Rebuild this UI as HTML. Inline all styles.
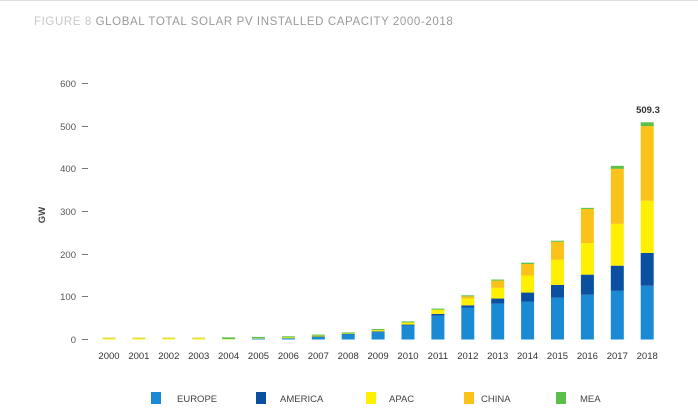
<!DOCTYPE html>
<html><head><meta charset="utf-8"><style>
html,body{margin:0;padding:0;background:#fff;width:698px;height:417px;overflow:hidden}
svg{display:block}
text{font-family:"Liberation Sans",sans-serif}
</style></head><body>
<svg width="698" height="417" viewBox="0 0 698 417" xmlns="http://www.w3.org/2000/svg">
<rect width="698" height="417" fill="#fff"/>
<line x1="0" y1="0.5" x2="698" y2="0.5" stroke="#ddd" stroke-width="1"/>
<text x="34" y="25" font-size="11.5" letter-spacing="0.6" fill="#c8c8c8">FIGURE 8 <tspan fill="#9a9a9a">GLOBAL TOTAL SOLAR PV INSTALLED CAPACITY 2000-2018</tspan></text>
<g font-size="9.5" fill="#555" text-anchor="end">
<text x="76" y="87">600</text><text x="76" y="130">500</text><text x="76" y="172">400</text>
<text x="76" y="215">300</text><text x="76" y="258">200</text><text x="76" y="300">100</text><text x="76" y="343">0</text>
</g>
<g stroke="#777" stroke-width="1">
<line x1="82" y1="83.5" x2="88" y2="83.5"/><line x1="82" y1="126.5" x2="88" y2="126.5"/><line x1="82" y1="168.5" x2="88" y2="168.5"/>
<line x1="82" y1="211.5" x2="88" y2="211.5"/><line x1="82" y1="254.5" x2="88" y2="254.5"/><line x1="82" y1="296.5" x2="88" y2="296.5"/><line x1="82" y1="339.5" x2="88" y2="339.5"/>
</g>
<text x="45" y="215" font-size="9.5" font-weight="bold" fill="#444" text-anchor="middle" transform="rotate(-90 45 215) translate(0 0)">GW</text>
<g id="bars"></g>
<g font-size="9.5" fill="#333" text-anchor="middle" id="years"></g>
<text x="648" y="113" font-size="9.5" font-weight="bold" fill="#333" text-anchor="middle">509.3</text>
<g font-size="9.5" fill="#444">
<rect x="151" y="392" width="10" height="12" fill="#1a8ad4"/><text x="177" y="402">EUROPE</text>
<rect x="256" y="392" width="10" height="12" fill="#0a4fa0"/><text x="280" y="402">AMERICA</text>
<rect x="366" y="392" width="10" height="12" fill="#ffef00"/><text x="389" y="402">APAC</text>
<rect x="464" y="392" width="10" height="12" fill="#fbc219"/><text x="481" y="402">CHINA</text>
<rect x="556" y="392" width="10" height="12" fill="#5cbf4a"/><text x="580" y="402">MEA</text>
</g>
</svg>
<script>
var d=[[0,0,2,0,3],[0,0,2,0,4],[0,0,2,0,4],[0,0,2,0,4],[0,0,1,0,5],[2,0,1,0,6],[3,0,2,0,7],[6,1,2,0,9],[12,1,1,0,15],[17,2,3,0,22],[33,2,5,0,42],[56,4,10,0,72],[75,5,16,5,103],[84,12,25,17,140],[89,21,40,27,180],[98,30,59,42,231],[105,47,74,80,308],[114,59,98,129,407],[126,77,122,175,509]];
var c=["#1a8ad4","#0a4fa0","#ffef00","#fbc219","#5cbf4a"];
var s=0.4267,b=339.5,ns="http://www.w3.org/2000/svg",g=document.getElementById("bars"),y=document.getElementById("years");
d.forEach(function(r,i){var cx=109+i*29.9,acc=0;
for(var k=0;k<4;k++){var h=r[k]*s;if(h>0){var e=document.createElementNS(ns,"rect");e.setAttribute("x",cx-6.5);e.setAttribute("y",b-(acc+r[k])*s);e.setAttribute("width",13);e.setAttribute("height",h);e.setAttribute("fill",c[k]);g.appendChild(e);}acc+=r[k];}
var m=Math.max(r[4]-acc,2.5)*s;if(acc==0)m=Math.max(m,2.5);var e=document.createElementNS(ns,"rect");e.setAttribute("x",cx-6.5);e.setAttribute("y",b-acc*s-m);e.setAttribute("width",13);e.setAttribute("height",m);e.setAttribute("fill",i<4?"#d8d830":c[4]);g.appendChild(e);
var t=document.createElementNS(ns,"text");t.setAttribute("x",cx);t.setAttribute("y",359);t.textContent=2000+i;y.appendChild(t);});
</script>
</body></html>
